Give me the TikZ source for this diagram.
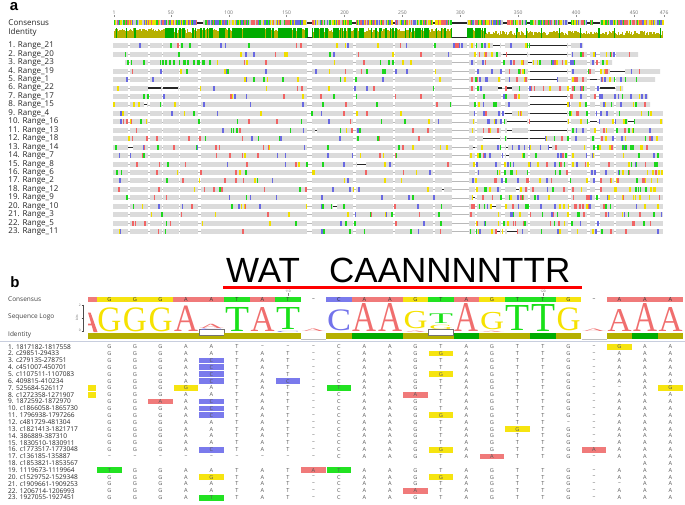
\documentclass[tikz,border=0pt]{standalone}
\usepackage{fontspec}
\usepackage{graphicx}
\newfontfamily\osf{Open Sans}
\newfontfamily\arf{Liberation Sans}
\newfontfamily\srf{Liberation Serif}
\definecolor{tc1}{RGB}{240,100,100}
\definecolor{tc2}{RGB}{30,215,30}
\definecolor{tc3}{RGB}{105,105,225}
\definecolor{tc4}{RGB}{240,222,0}
\definecolor{tc5}{RGB}{205,205,205}
\definecolor{barg}{RGB}{219,219,219}
\definecolor{oliv}{RGB}{181,176,0}
\definecolor{idgr}{RGB}{0,172,0}
\definecolor{hB}{RGB}{122,122,236}
\definecolor{hY}{RGB}{246,228,16}
\definecolor{hR}{RGB}{240,122,122}
\definecolor{hG}{RGB}{34,226,34}
\definecolor{cA}{RGB}{240,122,122}
\definecolor{cG}{RGB}{246,228,16}
\definecolor{cT}{RGB}{34,226,34}
\definecolor{cC}{RGB}{122,122,236}
\definecolor{lA}{RGB}{240,110,110}
\definecolor{lG}{RGB}{246,226,0}
\definecolor{lT}{RGB}{25,225,25}
\definecolor{lC}{RGB}{115,115,235}
\definecolor{sepl}{RGB}{200,206,222}

\tikzset{
 alab/.style={anchor=west,inner sep=0,font=\osf\fontsize{8}{9}\selectfont,text=black!85},
 blab/.style={anchor=west,inner sep=0,font=\osf\fontsize{6.6}{7}\selectfont,text=black!85},
 hlab/.style={anchor=west,inner sep=0,font=\osf\fontsize{6.5}{7}\selectfont,text=black!75},
 rtxt/.style={inner sep=0,font=\osf\fontsize{5.6}{6}\selectfont,text=black!65},
 ctxt/.style={inner sep=0,font=\osf\fontsize{5.6}{6}\selectfont,text=black!80},
 rulertxt/.style={inner sep=0,font=\osf\fontsize{5}{5}\selectfont,text=black!55},
 tinytxt/.style={inner sep=0,font=\osf\fontsize{3.2}{3.2}\selectfont,text=black!60},
 panellab/.style={inner sep=0,font=\arf\bfseries\fontsize{15}{15}\selectfont},
 bigtxt/.style={anchor=base west,inner sep=0,font=\arf\fontsize{35}{35}\selectfont},
}

% panel a row: #1 row, #2 start, #3 end, #4 left ticks, #5 right ticks, #6 black gaps
\newcommand\myarow[6]{%
 \pgfmathsetmacro\ay{45.8+(#1-1)*8.45}
 \pgfmathtruncatemacro\sd{#1*101+7}
 \begin{scope}
 \clip (#2,\ay-3) rectangle (#3,\ay+3);
 \draw[gray!55,line width=0.6] (#2,\ay) -- (#3,\ay);
 \foreach \a/\b in {113/128,129.5/148,149.5/161.5,163/178.5,180/197.5,201/307,312/353,356/393,395/433,435/452,469/475,477/501,505/528,530/568,571/587,590/595,600/614,616/663}
   \fill[barg] (\a,\ay-2.5) rectangle (\b,\ay+2.5);
 \pgfmathsetseed{\sd}
 \foreach \k in {1,...,#4}{\pgfmathsetmacro\xx{#2+rnd*(450-#2)}\pgfmathrandominteger{\cc}{1}{4}\fill[tc\cc] (\xx,\ay-2.5) rectangle ++(1.6,5);}
 \foreach \k in {1,...,#5}{\pgfmathsetmacro\xx{469+rnd*(#3-471)}\pgfmathrandominteger{\cc}{1}{4}\fill[tc\cc] (\xx,\ay-2.5) rectangle ++(1.6,5);}
 \foreach \a/\b in {#6}{\fill[white] (\a,\ay-3) rectangle (\b,\ay+3); \draw[black!85,line width=1.1] (\a,\ay) -- (\b,\ay);}
 \end{scope}}

% identity region panel a: x0 x1 pgreen hmin hmax seed
\newcommand\myidreg[6]{%
 \pgfmathsetseed{#6}
 \pgfmathtruncatemacro\nst{(#2-#1)/1.158}
 \foreach \k in {0,...,\nst}{
   \pgfmathsetmacro\xx{#1+\k*1.158}
   \pgfmathsetmacro\rr{rnd}
   \ifdim\rr pt<#3pt
     \fill[idgr] (\xx,28) rectangle ++(1.25,10);
   \else
     \pgfmathsetmacro\hh{#4+rnd*(#5-#4)}
     \fill[oliv] (\xx,38) rectangle ++(1.25,-\hh);
   \fi
 }}

% panel b row
\newcommand\mybrow[2]{%
 \pgfmathsetmacro\ry{346.7+(#1-1)*6.86}
 \foreach \L [count=\c from 0] in {#2}{\if n\L\else
   \pgfmathsetmacro\cx{109.5+25.5*\c}
   \node[rtxt] (r#1c\c) at (\cx,\ry) {\if-\L –\else\L\fi};\fi}}

% logo letter: col, bottom, height, color, letter
\newcommand\mylgl[5]{%
 \pgfmathsetmacro\cx{109.5+25.5*#1}
 \node[inner sep=0,anchor=south,text=#4] at (\cx,#2) {\resizebox*{24pt}{#3pt}{\srf #5}};}

\begin{document}
\begin{tikzpicture}[x=1pt,y=-1pt]
\useasboundingbox (0,0) rectangle (685,505);
\fill[white] (0,0) rectangle (685,505);

% ================= panel a =================
\node[panellab] (pa) at (14,7) {a};
\node[alab] (acons) at (8.3,22.7) {Consensus};
\node[alab] (aid) at (8.3,32.7) {Identity};
\foreach \n [count=\r] in {21,20,23,19,1,22,17,15,4,16,13,18,14,7,8,6,2,12,9,10,3,5,11}{
  \pgfmathsetmacro\ry{45.8+(\r-1)*8.45}
  \node[alab] (al\r) at (8.3,\ry) {\r. Range\_\n};}

% ruler
\foreach \p in {1,50,100,150,200,250,300,350,400,450,476}{
  \pgfmathsetmacro\xx{114.1+(\p-1)*1.158}
  \node[rulertxt] (ru\p) at (\xx,12.3) {\p};
  \draw[black!45,line width=0.4] (\xx,15.2) -- (\xx,17.2);}

% consensus stripe
\pgfmathsetseed{11}
\foreach \k in {0,...,474}{
  \pgfmathsetmacro\xx{113.5+\k*1.158}
  \pgfmathrandominteger{\cc}{1}{5}
  \fill[tc\cc] (\xx,20.5) rectangle ++(1.25,5);}
\foreach \a/\b in {197/203,307/312,452/467,503/507,527/530,568/571,587/590,593/600,352/356,393/395,433/435}{
  \fill[white] (\a,20) rectangle (\b,26);
  \draw[black!85,line width=1.2] (\a,23) -- (\b,23);}

% identity graph
\myidreg{113.5}{165}{0.1}{6.5}{9.8}{21}
\myidreg{165}{200}{0.45}{5}{9.5}{22}
\myidreg{200}{229}{0.6}{6}{9.5}{23}
\myidreg{229}{307}{0.8}{7}{9.8}{24}
\myidreg{312}{452}{0.45}{6}{9.8}{25}
\myidreg{467}{485}{0.4}{5}{8}{26}
\myidreg{485}{663}{0.04}{3}{7.5}{27}
\draw[black!85,line width=1] (307,37.5) -- (312,37.5);
\draw[black!85,line width=1] (452,37.5) -- (467,37.5);

% rows
\myarow{1}{113}{583}{18}{25}{493/500,530/567}
\fill[barg] (452,43.3) rectangle (467,48.3);
\pgfmathsetseed{5}
\foreach \k in {1,...,9}{\pgfmathsetmacro\xx{452+rnd*13}\pgfmathrandominteger{\cc}{1}{4}\fill[tc\cc] (\xx,43.3) rectangle ++(1.6,5);}
\myarow{2}{113}{638}{16}{30}{503/506,507/527,530/567}
\myarow{3}{125}{612}{14}{30}{528/532}
\pgfmathsetseed{33}
\foreach \k in {1,...,22}{\pgfmathsetmacro\xx{125+rnd*80}\fill[tc2] (\xx,60.2) rectangle ++(1.6,5);}
\myarow{4}{113}{660}{18}{30}{530/567,610/625}
\myarow{5}{113}{655}{16}{30}{530/557,590/597}
\myarow{6}{113}{623}{12}{25}{148/161,163/178,498/502,507/512,600/615}
\myarow{7}{113}{648}{16}{28}{530/567}
\myarow{8}{113}{650}{14}{28}{144/147,530/567}
\myarow{9}{113}{663}{14}{30}{505/512,530/567}
\myarow{10}{113}{663}{18}{32}{507/527,530/567,590/597,628/634}
\myarow{11}{113}{663}{16}{25}{315/317,507/512,530/567}
\myarow{12}{113}{663}{18}{25}{483/500,507/528,530/545}
\myarow{13}{113}{663}{22}{30}{128/133,473/475,506/508,549/552}
\myarow{14}{113}{663}{18}{28}{506/509}
\myarow{15}{113}{663}{16}{28}{357/366}
\myarow{16}{113}{663}{14}{25}{0/0}
\myarow{17}{113}{663}{14}{28}{0/0}
\myarow{18}{113}{663}{16}{28}{442/444,516/519}
\myarow{19}{113}{663}{12}{28}{473/475}
\myarow{20}{113}{663}{20}{30}{333/337,492/496}
\myarow{21}{113}{663}{16}{26}{0/0}
\myarow{22}{113}{663}{14}{24}{0/0}
\myarow{23}{113}{663}{12}{22}{497/500,507/517}

% ================= panel b =================
\node[panellab] (pb) at (15,282.5) {b};
\node[bigtxt] (wat) at (226,282.3) {WAT};
\node[bigtxt] (caan) at (329,282.3) {CAANNNNTTR};
\coordinate (rl1) at (223,287.5);
\coordinate (rl2) at (582,287.5);
\draw[red,line width=2.2] (rl1) -- (rl2);

\node[hlab] (bcons) at (8,299.3) {Consensus};
\node[hlab] (blogo) at (8,317.3) {Sequence Logo};
\node[hlab] (bid) at (8,335) {Identity};

% ruler b
\node[tinytxt] (t110) at (288,291.3) {110};
\node[tinytxt] (t120) at (543,291.3) {120};
\draw[black!50,line width=0.3] (288,293.3) -- (288,296.3);
\draw[black!50,line width=0.3] (543,293.3) -- (543,296.3);

% logo axis
\draw[black!70,line width=0.4] (83,304.5) -- (83,331.5);
\foreach \yy in {305,318,331}{\draw[black!70,line width=0.4] (81.6,\yy) -- (83,\yy);}
\node[tinytxt] (ax2) at (79.8,305) {2};
\node[tinytxt] (ax0) at (79.8,330.5) {0};
\node[tinytxt,rotate=90] (bits) at (77,318) {bits};

\draw[sepl,line width=0.6] (0,341.4) -- (685,341.4);

\begin{scope}
\clip (88,288) rectangle (685,505);
% consensus bar
\foreach \L [count=\c from -1] in {A,G,G,G,A,A,T,A,T,-,C,A,A,G,T,A,G,T,T,G,-,A,A,A}{
  \pgfmathsetmacro\cx{109.5+25.5*\c}
  \if-\L
    \node[ctxt] (cs\c) at (\cx,299.3) {–};
  \else
    \fill[c\L] (\cx-12.75,296.5) rectangle (\cx+12.75,302);
    \ifnum\c>-1 \node[ctxt] (cs\c) at (\cx,299.3) {\L};\fi
  \fi}
% identity bar
\foreach \c/\t in {-1/o,0/o,1/o,2/o,3/o,4/w,5/o,6/o,7/o,8/n,9/o,10/g,11/g,12/o,13/w,14/g,15/o,16/o,17/g,18/o,19/n,20/o,21/g,22/o}{
  \pgfmathsetmacro\cx{109.5+25.5*\c}
  \if o\t \fill[oliv] (\cx-12.75,332.5) rectangle (\cx+12.75,339);\fi
  \if g\t \fill[idgr] (\cx-12.75,332.5) rectangle (\cx+12.75,339);\fi
  \if w\t \fill[oliv] (\cx-12.75,335.5) rectangle (\cx+12.75,339);
    \filldraw[fill=white,draw=black!55,line width=0.5] (\cx-12.4,329.6) rectangle (\cx+12.4,335.5);\fi
  \if n\t \draw[black!25,line width=0.4] (\cx-12.5,338.8) -- (\cx+12.5,338.8);\fi}
% logo: partial A of the column cut at the left edge
\fill[lA] (88,312.5) -- (90.6,312.5) -- (97.5,332) -- (93.6,332) -- cycle;
\fill[lA] (88,323.6) -- (92.2,323.6) -- (92.8,325.4) -- (88,325.4) -- cycle;
\mylgl{0}{332}{24}{lG}{G}
\mylgl{1}{332}{24}{lG}{G}
\mylgl{2}{332}{24}{lG}{G}
\mylgl{3}{332}{25.5}{lA}{A}
\mylgl{4}{331}{1.6}{lC}{C}
\mylgl{4}{328.4}{4.2}{lA}{A}
\mylgl{5}{332}{24}{lT}{T}
\mylgl{6}{332}{24}{lA}{A}
\mylgl{7}{329.8}{22}{lT}{T}
\mylgl{7}{332.6}{1.2}{lC}{C}
\mylgl{8}{332}{2.5}{lA}{A}
\mylgl{9}{331.5}{21}{lC}{C}
\mylgl{10}{332}{28}{lA}{A}
\mylgl{11}{332}{28}{lA}{A}
\mylgl{12}{329.3}{17.4}{lG}{G}
\mylgl{12}{332.4}{1.4}{lA}{A}
\mylgl{13}{329.5}{4.3}{lG}{G}
\mylgl{13}{323.6}{9.6}{lT}{T}
\mylgl{14}{332}{28}{lA}{A}
\mylgl{15}{329.8}{17.4}{lG}{G}
\mylgl{15}{332.4}{1.2}{lA}{A}
\mylgl{16}{331}{25}{lT}{T}
\mylgl{17}{332}{27}{lT}{T}
\mylgl{18}{331.5}{23}{lG}{G}
\mylgl{19}{332}{2.5}{lA}{A}
\mylgl{20}{332}{22}{lA}{A}
\mylgl{21}{332}{28}{lA}{A}
\mylgl{22}{332}{24}{lA}{A}
% highlights
\foreach \r/\c/\col in {1/20/hY,2/13/hY,3/4/hB,4/4/hB,5/4/hB,5/13/hY,6/4/hB,6/7/hB,7/-1/hY,7/3/hY,7/9/hG,7/22/hY,8/-1/hY,8/12/hR,9/2/hR,9/4/hB,10/4/hB,11/4/hB,11/13/hY,13/16/hY,16/4/hB,16/13/hY,16/19/hR,17/15/hR,19/0/hG,19/8/hR,19/9/hG,20/4/hY,20/13/hY,22/12/hR,23/4/hG}{
  \pgfmathsetmacro\cx{109.5+25.5*\c}
  \pgfmathsetmacro\ry{346.7+(\r-1)*6.86}
  \fill[\col] (\cx-12.2,\ry-2.9) rectangle (\cx+12.2,\ry+2.9);}
\end{scope}

% residues
\mybrow{1}{G,G,G,A,A,T,-,-,-,C,A,A,G,T,A,G,T,T,G,-,G,A,A}
\mybrow{2}{G,G,G,A,A,T,A,T,-,C,A,A,G,G,A,G,T,T,G,-,A,A,A}
\mybrow{3}{G,G,G,A,C,T,A,T,-,C,A,A,G,T,A,G,T,T,G,-,A,A,A}
\mybrow{4}{G,G,G,A,C,T,A,T,-,C,A,A,G,T,A,G,T,T,G,-,A,A,A}
\mybrow{5}{G,G,G,A,C,T,A,T,-,C,A,A,G,G,A,G,T,T,G,-,A,A,A}
\mybrow{6}{G,G,G,A,C,T,A,C,-,C,A,A,G,T,A,G,T,T,G,-,A,A,A}
\mybrow{7}{G,G,G,G,A,T,A,T,-,T,A,A,G,T,A,G,T,T,G,-,-,A,G}
\mybrow{8}{G,G,G,A,A,T,A,T,-,C,A,A,A,T,A,G,T,T,G,-,A,A,A}
\mybrow{9}{G,G,A,A,C,T,A,T,-,C,A,A,G,T,A,G,T,T,G,-,A,A,A}
\mybrow{10}{G,G,G,A,C,T,A,T,-,C,A,A,G,T,A,G,T,T,G,-,A,A,A}
\mybrow{11}{G,G,G,A,C,T,A,T,-,C,A,A,G,G,A,G,T,T,G,-,A,A,A}
\mybrow{12}{G,G,G,A,A,T,A,T,-,C,A,A,G,T,A,G,T,T,-,-,A,A,A}
\mybrow{13}{G,G,G,A,A,T,A,T,-,C,A,A,G,T,A,G,G,T,G,-,A,A,A}
\mybrow{14}{G,G,G,A,A,T,A,T,-,C,A,A,G,T,A,G,T,T,G,-,A,A,A}
\mybrow{15}{G,G,G,A,A,T,A,T,-,C,A,A,G,T,A,G,T,T,G,-,A,A,A}
\mybrow{16}{G,G,G,A,C,T,A,T,-,C,A,A,G,G,A,G,T,T,G,A,A,A,A}
\mybrow{17}{-,-,-,-,-,-,-,-,-,C,A,A,G,T,A,A,T,T,G,-,A,A,A}
\mybrow{18}{n,n,n,n,n,n,n,n,n,n,n,n,n,n,n,n,n,n,n,n,n,A,A}
\mybrow{19}{T,G,G,A,A,T,A,T,A,T,A,A,G,T,A,G,T,T,G,-,A,A,A}
\mybrow{20}{G,G,G,A,G,T,A,T,-,C,A,A,G,G,A,G,T,T,G,-,A,A,A}
\mybrow{21}{G,G,G,A,A,T,A,T,-,C,A,A,G,T,A,G,T,T,G,-,-,A,A}
\mybrow{22}{G,G,G,A,A,T,A,T,-,C,A,A,A,T,A,G,T,T,G,-,A,A,A}
\mybrow{23}{G,G,G,A,T,T,A,T,-,C,A,A,G,T,A,G,T,T,G,-,A,A,A}

% row labels b
\foreach \lab [count=\r] in {1817182-1817558,c29851-29433,c279135-278751,c451007-450701,c1107511-1107083,409815-410234,525684-526117,c1272358-1271907,1872592-1872970,c1866058-1865730,1796938-1797266,c481729-481304,c1821413-1821717,386889-387310,1830510-1830911,c1773517-1773048,c136185-135887,c1853821-1853567,1119673-1119964,c1529752-1529348,c1909661-1909253,1206714-1206993,1927055-1927451}{
  \pgfmathsetmacro\ry{346.7+(\r-1)*6.86}
  \node[blab] (bl\r) at (8,\ry) {\r. \lab};}
\end{tikzpicture}
\end{document}
